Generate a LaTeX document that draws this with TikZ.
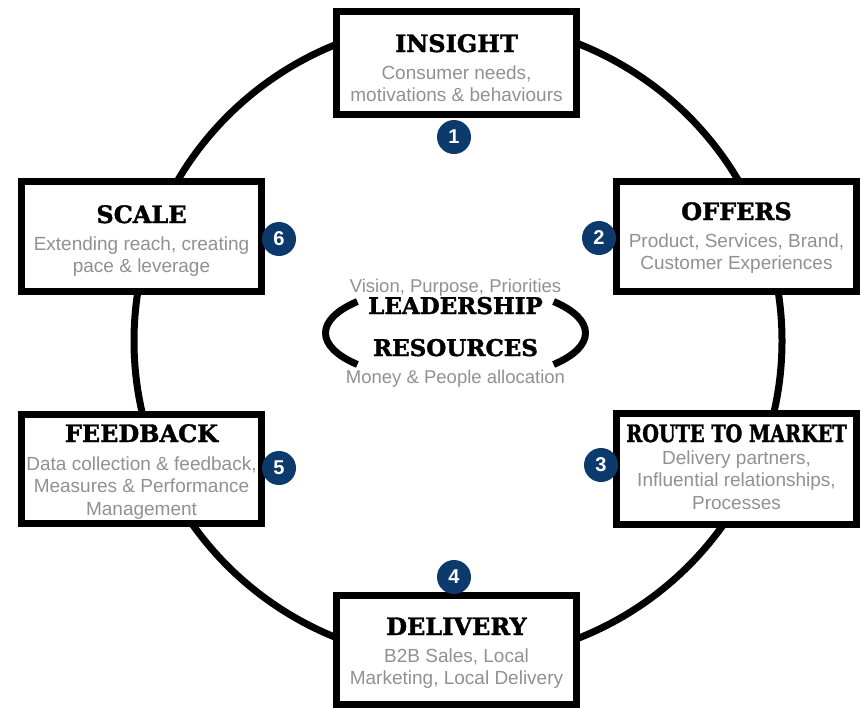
\documentclass[tikz,border=0pt]{standalone}
\usepackage{fontspec}
\setmainfont{Liberation Sans}
\newfontfamily\slabfont{DejaVu Serif}[FakeBold=1.6]
\newfontfamily\slabnarrow{DejaVu Serif}[FakeStretch=0.8,FakeBold=1.6]
\definecolor{badgeblue}{RGB}{12,58,108}
\definecolor{descgray}{RGB}{145,145,145}
\tikzset{
 cyclebox/.style={draw=black, line width=7pt, fill=white, inner sep=0pt, minimum width=240pt},
 boxtitle/.style={font=\slabfont\bfseries\fontsize{24}{26}\selectfont, inner sep=0pt, anchor=base},
 narrowtitle/.style={font=\slabnarrow\bfseries\fontsize{24}{26}\selectfont},
 middletitle/.style={font=\slabfont\bfseries\fontsize{23}{26}\selectfont},
 boxdesc/.style={font=\fontsize{19}{22.5}\selectfont, text=descgray, align=center, inner sep=0pt, anchor=north},
 centerdesc/.style={font=\fontsize{18.5}{22}\selectfont, text=descgray, inner sep=0pt, anchor=base},
 badge/.style={circle, fill=badgeblue, minimum size=34pt, inner sep=0pt, text=white, font=\bfseries\fontsize{20}{20}\selectfont},
 ring/.style={line width=7pt, draw=black},
 paren/.style={line width=7pt, draw=black}
}
\newcommand\mkbox[9]{%
 \node[cyclebox, minimum height={#4-7}] (#1) at (#2,{#3+#4/2}) {};
 \node[boxtitle,#9] (#1-title) at (#2,{#3+#7}) {#5};
 \node[boxdesc] (#1-desc) at (#2,{#3+#8-14}) {\rule{0pt}{14pt}#6};
}
\begin{document}
\begin{tikzpicture}[x=1pt,y=-1pt]
\useasboundingbox (0,0) rectangle (866,707);
\coordinate (ringc) at (458,341);
\draw[ring] (ringc) ellipse[x radius=324, y radius=320];
\mkbox{insight}{456.5}{8}{110}{INSIGHT}{Consumer needs,\\motivations \& behaviours}{44}{71}{}
\mkbox{scale}{141.5}{178}{117}{SCALE}{Extending reach, creating\\pace \& leverage}{45}{72}{}
\mkbox{offers}{736.5}{178}{117}{OFFERS}{Product, Services, Brand,\\Customer Experiences}{42}{69}{}
\mkbox{feedback}{141.5}{411}{116}{FEEDBACK}{Data collection \& feedback,\\Measures \& Performance\\Management}{31}{59}{}
\mkbox{route}{736.5}{410}{118}{ROUTE TO MARKET}{Delivery partners,\\Influential relationships,\\Processes}{32}{54}{narrowtitle}
\mkbox{delivery}{456.5}{592}{116}{DELIVERY}{B2B Sales, Local\\Marketing, Local Delivery}{43}{70}{}
\node[badge] (b1) at (454,137) {1};
\node[badge] (b2) at (599,238) {2};
\node[badge] (b3) at (601,465) {3};
\node[badge] (b4) at (454,577) {4};
\node[badge] (b5) at (279,468) {5};
\node[badge] (b6) at (279,239) {6};
\coordinate (lc) at (455.5,333);
\draw[paren] (lc) ++(139:130 and 48) arc[start angle=139,end angle=221,x radius=130,y radius=48];
\draw[paren] (lc) ++(-41:130 and 48) arc[start angle=-41,end angle=41,x radius=130,y radius=48];
\node[centerdesc] (vision) at (455.5,292) {Vision, Purpose, Priorities};
\node[boxtitle,middletitle] (leadership) at (455.5,314) {LEADERSHIP};
\node[boxtitle,middletitle] (resources) at (455.5,356) {RESOURCES};
\node[centerdesc] (money) at (455.5,383) {Money \& People allocation};
\end{tikzpicture}
\end{document}
